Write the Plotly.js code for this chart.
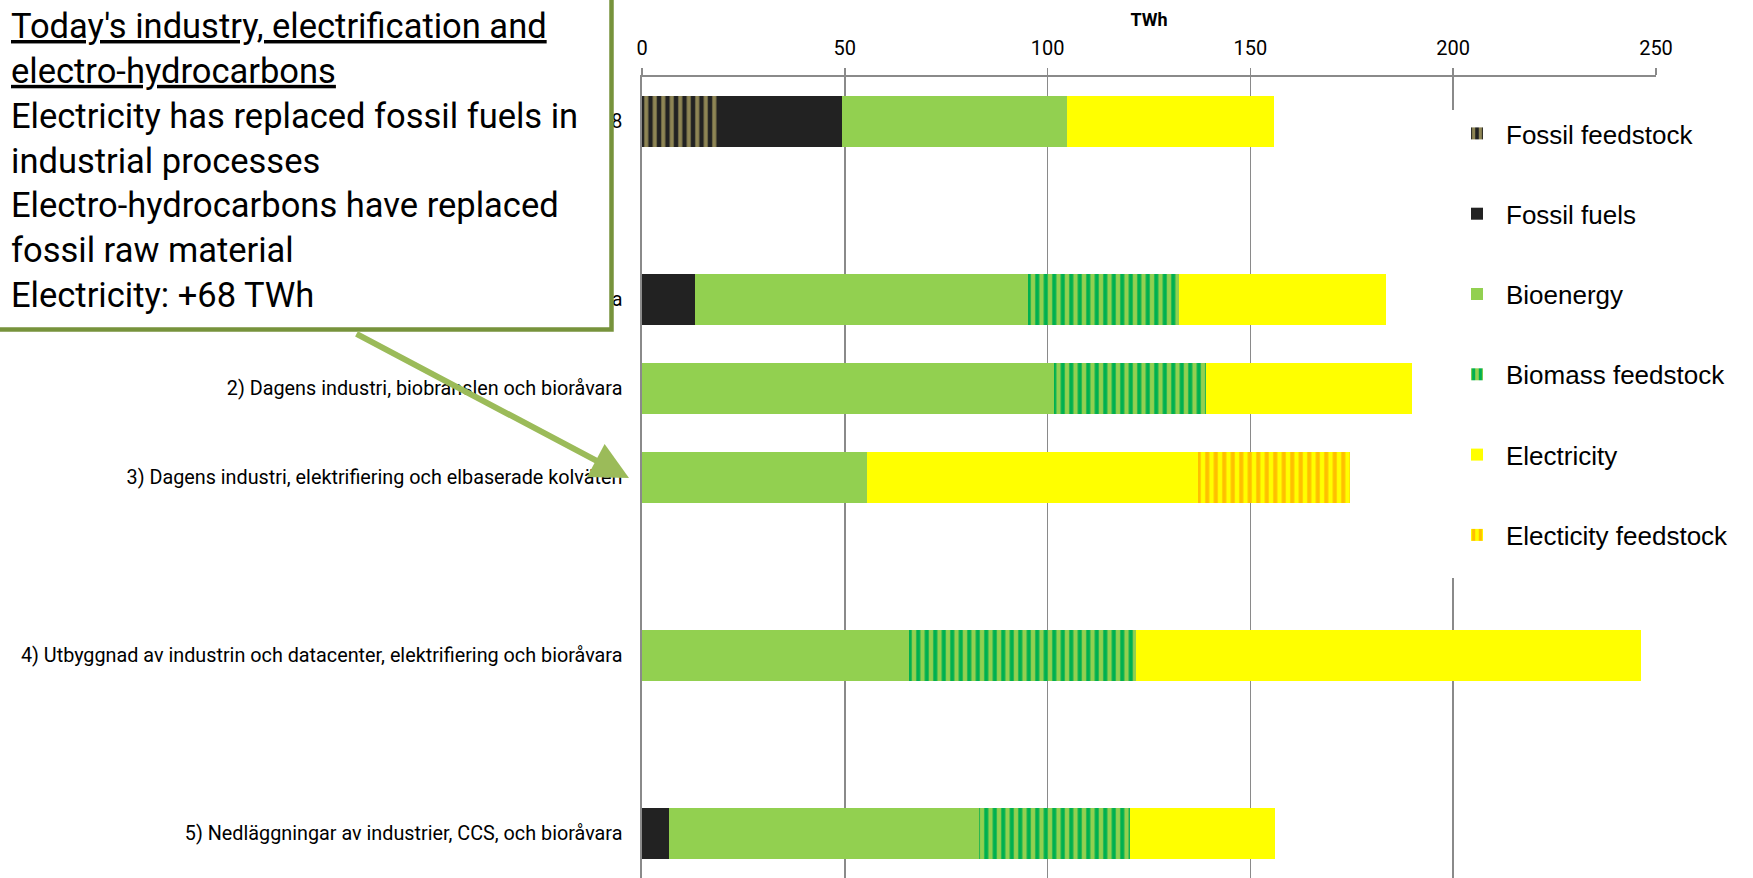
<!DOCTYPE html>
<html>
<head>
<meta charset="utf-8">
<script src="https://cdn.plot.ly/plotly-3.0.1.min.js"></script>
<style>
html,body{margin:0;padding:0;background:#fff;}
#chart{width:1753px;height:878px;}
</style>
</head>
<body>
<div id="chart"></div>
<script>
// ---- data ----
const scenarios = [
  "0) Dagens industri 2018",
  "1) Dagens industri, fossila bränslen och bioråvara",
  "2) Dagens industri, biobränslen och bioråvara",
  "3) Dagens industri, elektrifiering och elbaserade kolväten",
  "4) Utbyggnad av industrin och datacenter, elektrifiering och bioråvara",
  "5) Nedläggningar av industrier, CCS, och bioråvara"
];
// empty category slots between scenarios (as in the original chart)
const categoryOrder = [
  scenarios[0], "\u200b", scenarios[1], scenarios[2], scenarios[3],
  "\u200b\u200b", scenarios[4], "\u200b\u200b\u200b", scenarios[5]
];
const seriesNames = ["Fossil feedstock", "Fossil fuels", "Bioenergy", "Biomass feedstock", "Electricity", "Electicity feedstock"];
const fossilFeedstock  = [18.5, null, null, null, null, null];
const fossilFuels      = [30.8, 13.0, null, null, null, 6.6];
const bioenergy        = [55.6, 82.2, 101.6, 55.5, 65.9, 76.6];
const biomassFeedstock = [null, 37.3, 37.4, null, 55.8, 37.1];
const electricity      = [50.9, 50.9, 50.8, 81.6, 124.6, 35.7];
const elFeedstock      = [null, null, null, 37.5, null, null];
const xTicks = [0, 50, 100, 150, 200, 250];

// ---- layout helpers (pixel -> paper) ----
const W = 1753, H = 878, ML = 642, MR = 97, MT = 77, MB = 0;
const PW = W - ML - MR, PH = H - MT - MB;
const px = x => (x - ML) / PW;
const py = y => 1 - (y - MT) / PH;

function barTrace(name, values, color, stripe) {
  const t = {
    type: 'bar', orientation: 'h', name: name, legendgroup: name,
    y: scenarios, x: values,
    marker: {color: color, line: {width: 0}},
    hoverinfo: 'x+name'
  };
  if (stripe) {
    t.marker.pattern = {shape: '|', fgcolor: stripe, bgcolor: color, size: 8.5, solidity: 0.48, fgopacity: 1, fillmode: 'replace'};
  }
  return t;
}

const data = [
  barTrace(seriesNames[0], fossilFeedstock, '#222222', '#8E8554'),
  barTrace(seriesNames[1], fossilFuels, '#222222'),
  barTrace(seriesNames[2], bioenergy, '#92D050'),
  barTrace(seriesNames[3], biomassFeedstock, '#92D050', '#00B050'),
  barTrace(seriesNames[4], electricity, '#FFFF00'),
  barTrace(seriesNames[5], elFeedstock, '#FFFF00', '#FFC000')
];

const gridCol = '#8a8a8a';
const layout = {
  width: W, height: H,
  margin: {l: ML, r: MR, t: MT, b: MB, pad: 0},
  paper_bgcolor: '#fff', plot_bgcolor: '#fff',
  barmode: 'stack', bargap: 0.425,
  showlegend: true,
  font: {family: 'Roboto, sans-serif', color: '#000'},
  xaxis: {
    side: 'top', range: [0, 250], tickvals: xTicks, ticktext: xTicks.map(String),
    showgrid: true, gridcolor: gridCol, gridwidth: 1.6,
    showline: true, linecolor: gridCol, linewidth: 1.6,
    ticks: 'outside', ticklen: 7, tickwidth: 1.6, tickcolor: gridCol,
    tickfont: {family: 'Roboto, sans-serif', size: 20, color: '#000'},
    ticklabelstandoff: 5,
    zeroline: false, automargin: false, fixedrange: true,
    title: {text: '<b>TWh</b>', font: {family: 'Roboto, sans-serif', size: 18, color: '#000'}, standoff: 5}
  },
  yaxis: {
    type: 'category', categoryorder: 'array', categoryarray: categoryOrder,
    range: [8.5, -0.5],
    showgrid: false, zeroline: false,
    showline: true, linecolor: gridCol, linewidth: 1.6,
    ticks: '', ticklabelstandoff: 14,
    tickfont: {family: 'Roboto, sans-serif', size: 19.8, color: '#000'},
    automargin: false, fixedrange: true
  },
  legend: {
    x: px(1448), xanchor: 'left', y: py(110), yanchor: 'top',
    bgcolor: 'rgba(255,255,255,0)', borderwidth: 0,
    itemwidth: 48, traceorder: 'grouped', tracegroupgap: 43.5,
    font: {family: 'Liberation Sans, Arial, sans-serif', size: 26, color: '#000'},
    itemclick: false, itemdoubleclick: false
  },
  shapes: [
    { // white legend panel covering the gridlines
      type: 'rect', xref: 'paper', yref: 'paper', layer: 'above',
      x0: px(1446), x1: px(1750), y0: py(110), y1: py(578),
      fillcolor: '#fff', line: {width: 0}
    },
    { // text box
      type: 'rect', xref: 'paper', yref: 'paper', layer: 'above',
      x0: px(-10), x1: px(611.5), y0: py(-10), y1: py(329.5),
      fillcolor: '#fff', line: {color: '#77933C', width: 4.5}
    }
  ],
  annotations: [
    {
      xref: 'paper', yref: 'paper', x: px(629), y: py(478),
      ax: 355 - 629, ay: 333 - 478, axref: 'pixel', ayref: 'pixel',
      text: '', showarrow: true, arrowhead: 2, arrowsize: 1.25, arrowwidth: 6,
      arrowcolor: '#9BBB59', standoff: 0
    },
    {
      xref: 'paper', yref: 'paper', x: px(9), xanchor: 'left', y: py(160.4), yanchor: 'middle',
      align: 'left', showarrow: false,
      font: {family: 'Roboto, sans-serif', size: 34.5, color: '#000'},
      text: "<u>Today's industry, electrification and</u><br><u>electro-hydrocarbons</u><br>" +
            "Electricity has replaced fossil fuels in<br>industrial processes<br>" +
            "Electro-hydrocarbons have replaced<br>fossil raw material<br>" +
            "Electricity: +68 TWh"
    }
  ]
};

Plotly.newPlot('chart', data, layout, {staticPlot: true, displayModeBar: false});
</script>
</body>
</html>
